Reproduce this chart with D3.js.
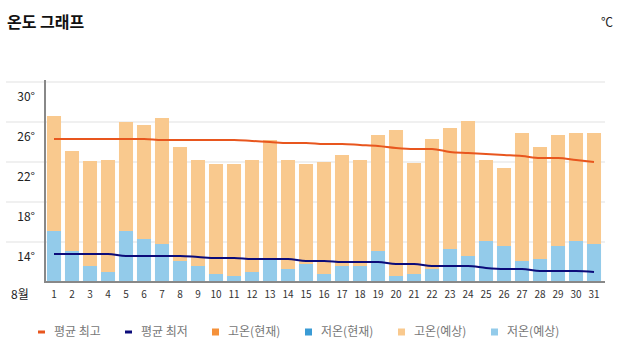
<!DOCTYPE html>
<html>
<head>
<meta charset="utf-8">
<script src="https://cdn.jsdelivr.net/npm/d3@7"></script>
<style>
  body { margin: 0; background: #fff; }
  svg { display: block; font-family: "Noto Sans CJK KR", "Noto Sans", sans-serif; }
</style>
</head>
<body>
<svg id="chart" width="626" height="352"></svg>
<script>
// 8월 day labels
var days = ["1","2","3","4","5","6","7","8","9","10","11","12","13","14","15","16","17","18","19","20","21","22","23","24","25","26","27","28","29","30","31"];

// forecast high / low (bars)
var highForecast = [28.6, 25.1, 24.1, 24.2, 28.0, 27.7, 28.4, 25.5, 24.2, 23.8, 23.8, 24.2, 26.2, 24.2, 23.8, 24.0, 24.7, 24.2, 26.7, 27.2, 23.9, 26.3, 27.4, 28.1, 24.2, 23.4, 26.9, 25.5, 26.7, 26.9, 26.9];
var lowForecast = [17.1, 15.1, 13.6, 13.0, 17.1, 16.3, 15.8, 14.1, 13.6, 12.8, 12.6, 13.0, 14.2, 13.3, 13.8, 12.8, 13.6, 13.6, 15.1, 12.6, 12.8, 13.3, 15.3, 14.6, 16.1, 15.6, 14.1, 14.3, 15.6, 16.1, 15.8];

// average high / low (lines)
var avgHigh = [26.3, 26.3, 26.3, 26.3, 26.3, 26.3, 26.2, 26.2, 26.2, 26.2, 26.2, 26.1, 26.0, 25.9, 25.9, 25.8, 25.8, 25.7, 25.6, 25.4, 25.3, 25.3, 25.0, 24.9, 24.8, 24.7, 24.6, 24.4, 24.4, 24.2, 24.0];
var avgLow = [14.8, 14.8, 14.8, 14.8, 14.6, 14.6, 14.6, 14.6, 14.5, 14.4, 14.4, 14.3, 14.3, 14.3, 14.1, 14.1, 14.0, 14.0, 14.0, 13.8, 13.8, 13.6, 13.6, 13.6, 13.4, 13.3, 13.3, 13.1, 13.1, 13.1, 13.0];

var yTicks = [14, 18, 22, 26, 30];
var gridValues = [16, 20, 24, 28, 32];

var legendItems = [
    { label: "평균 최고", color: "#e8561e", type: "line" },
    { label: "평균 최저", color: "#0b0b7a", type: "line" },
    { label: "고온(현재)", color: "#f5913a", type: "rect" },
    { label: "저온(현재)", color: "#3a9bd5", type: "rect" },
    { label: "고온(예상)", color: "#f9c98e", type: "rect" },
    { label: "저온(예상)", color: "#93cbea", type: "rect" }
];

var svg = d3.select("#chart");

// scales
var x = d3.scaleBand()
    .domain(days)
    .range([45, 603])
    .paddingInner(0.22)
    .paddingOuter(0.11);

var y = d3.scaleLinear()
    .domain([12, 32])
    .range([282, 82]);

// title
svg.append("text")
    .attr("x", 7)
    .attr("y", 28)
    .style("font-size", "16px")
    .style("font-weight", "bold")
    .style("fill", "#111")
    .text("온도 그래프");

svg.append("text")
    .attr("x", 613)
    .attr("y", 27)
    .attr("text-anchor", "end")
    .style("font-size", "12px")
    .style("fill", "#222")
    .text("℃");

// gridlines
svg.append("g")
    .selectAll("line")
    .data(gridValues)
    .enter()
    .append("line")
    .attr("x1", 6)
    .attr("x2", 605)
    .attr("y1", d => y(d))
    .attr("y2", d => y(d))
    .style("stroke", "#ebebeb")
    .style("stroke-width", 1.5);

// y labels (sit between gridlines)
svg.append("g")
    .selectAll("text")
    .data(yTicks)
    .enter()
    .append("text")
    .attr("x", 35)
    .attr("y", d => y(d))
    .attr("dy", "-0.05em")
    .attr("text-anchor", "end")
    .style("font-size", "12px")
    .style("fill", "#222")
    .text(d => d + "°");

// high forecast bars
svg.append("g")
    .selectAll("rect")
    .data(highForecast)
    .enter()
    .append("rect")
    .attr("x", (d, i) => x(days[i]))
    .attr("width", x.bandwidth())
    .attr("y", d => y(d))
    .attr("height", d => y(12) - y(d))
    .style("fill", "#f9c98e");

// low forecast bars
svg.append("g")
    .selectAll("rect")
    .data(lowForecast)
    .enter()
    .append("rect")
    .attr("x", (d, i) => x(days[i]))
    .attr("width", x.bandwidth())
    .attr("y", d => y(d))
    .attr("height", d => y(12) - y(d))
    .style("fill", "#93cbea");

// average lines
var line = d3.line()
    .x((d, i) => x(days[i]) + x.bandwidth() / 2)
    .y(d => y(d))
    .curve(d3.curveMonotoneX);

svg.append("path")
    .datum(avgHigh)
    .attr("d", line)
    .style("fill", "none")
    .style("stroke", "#e8561e")
    .style("stroke-width", 2);

svg.append("path")
    .datum(avgLow)
    .attr("d", line)
    .style("fill", "none")
    .style("stroke", "#0b0b7a")
    .style("stroke-width", 2);

// axes lines
svg.append("line")
    .attr("x1", 45).attr("x2", 45)
    .attr("y1", 80).attr("y2", y(12))
    .style("stroke", "#888")
    .style("stroke-width", 2);

var xAxis = d3.axisBottom(x).tickSize(0).tickPadding(9);
var gx = svg.append("g")
    .attr("transform", "translate(0," + y(12) + ")")
    .call(xAxis);
gx.select(".domain").remove();
gx.selectAll("text")
    .style("font-size", "10px")
    .style("font-family", "\"Noto Sans CJK KR\", sans-serif")
    .style("fill", "#333");

svg.append("line")
    .attr("x1", 44).attr("x2", 605)
    .attr("y1", y(12)).attr("y2", y(12))
    .style("stroke", "#888")
    .style("stroke-width", 2);

svg.append("text")
    .attr("x", 11)
    .attr("y", 299)
    .style("font-size", "12px")
    .style("fill", "#222")
    .text("8월");

// legend
var legendX = [38, 125, 212, 305, 398, 491];
var legend = svg.append("g")
    .selectAll("g")
    .data(legendItems)
    .enter()
    .append("g")
    .attr("transform", (d, i) => "translate(" + legendX[i] + ",332)");

legend.append("rect")
    .attr("x", 0)
    .attr("y", d => d.type === "line" ? -1.5 : -3.5)
    .attr("width", 7)
    .attr("height", d => d.type === "line" ? 3 : 7)
    .style("fill", d => d.color);

legend.append("text")
    .attr("x", 16)
    .attr("y", 0)
    .attr("dy", "0.35em")
    .style("font-size", "12px")
    .style("fill", "#777")
    .text(d => d.label);
</script>
</body>
</html>
